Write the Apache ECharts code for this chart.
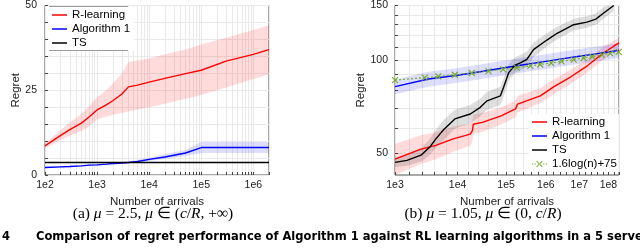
<!DOCTYPE html>
<html><head><meta charset="utf-8">
<script src="https://cdn.jsdelivr.net/npm/echarts@6/dist/echarts.min.js"></script>
<style>html,body{margin:0;padding:0;background:#fff;overflow:hidden}#c{width:640px;height:249px}</style>
</head><body><div id="c"></div>
<script>
// ---------- Panel (a) data ----------
const nA = [100, 200, 300, 500, 700, 1000, 1500, 2000, 3000, 4000, 6000, 10000, 20000, 50000, 100000, 300000, 1000000, 2000000];
const rlA   = [8.6, 11.7, 13.4, 15.3, 17.1, 19.2, 20.7, 21.9, 23.9, 26.0, 26.5, 27.4, 28.5, 29.9, 30.9, 33.6, 35.6, 37.0];
const rlHiA = [9.3, 13.2, 15.5, 18.0, 20.3, 22.9, 25.0, 27.0, 30.0, 33.3, 33.8, 34.4, 35.6, 37.0, 38.5, 40.5, 42.8, 44.2];
const rlLoA = [8.0, 10.3, 11.6, 13.0, 14.4, 16.4, 17.2, 17.8, 18.3, 18.8, 19.3, 20.0, 21.0, 22.5, 23.6, 25.8, 28.3, 29.7];
const alA   = [2.2, 2.4, 2.5, 2.7, 2.9, 3.0, 3.2, 3.35, 3.55, 3.7, 4.0, 4.6, 5.3, 6.5, 8.1, 8.1, 8.1, 8.1];
const alHiA = [2.4, 2.6, 2.7, 2.9, 3.1, 3.3, 3.5, 3.65, 3.85, 4.0, 4.4, 5.1, 6.1, 7.4, 9.7, 9.7, 9.7, 9.7];
const alLoA = [2.0, 2.2, 2.3, 2.5, 2.7, 2.8, 3.0, 3.1, 3.3, 3.45, 3.7, 4.2, 4.7, 5.6, 6.5, 6.5, 6.5, 6.5];
const nTsA  = [100, 2000000];
const tsA   = [3.7, 3.7];
const xTickA = [100, 1000, 10000, 100000, 1000000];
const yTickA = [0, 25, 50];

// ---------- Panel (b) data (x = log10 of number of arrivals) ----------
const eRlB   = [3.0, 3.37, 3.62, 3.92, 4.24, 4.28, 4.30, 4.5, 4.9, 5.22, 5.27, 5.85, 6.22, 6.72, 7.25, 7.83, 8.2, 8.4];
const rlB    = [47.8, 51.4, 53.0, 55.6, 57.6, 59.0, 62.0, 63.0, 66.1, 69.5, 72.0, 76.6, 81.9, 88.1, 95.6, 105.5, 110.8, 113.6];
const rlHiB  = [53.6, 57.0, 58.5, 61.0, 62.5, 63.8, 66.5, 67.5, 70.5, 74.0, 76.5, 81.0, 86.5, 93.0, 100.5, 110.5, 115.5, 118.0];
const rlLoB  = [42.5, 46.0, 47.8, 50.5, 52.8, 54.3, 57.5, 58.7, 62.0, 65.3, 67.7, 72.5, 77.5, 83.5, 91.0, 100.5, 106.0, 109.0];
const eAlB   = [3.0, 3.5, 4.0, 4.5, 5.0, 5.5, 6.0, 6.5, 7.0, 7.5, 8.0, 8.4];
const alB    = [82.0, 86.8, 89.3, 92.0, 94.6, 96.9, 99.0, 101.0, 102.8, 104.5, 106.1, 107.4];
const alHiB  = [86.5, 91.6, 94.2, 97.0, 99.8, 102.2, 104.4, 106.6, 108.5, 110.3, 112.0, 113.3];
const alLoB  = [77.5, 82.0, 84.4, 87.0, 89.4, 91.6, 93.6, 95.5, 97.2, 98.8, 100.3, 101.5];
const eTsB   = [3.0, 3.17, 3.39, 3.52, 3.62, 3.75, 3.87, 3.95, 4.24, 4.44, 4.58, 4.87, 4.94, 5.06, 5.21, 5.35, 5.5, 5.67, 6.03, 6.32, 6.82, 7.25, 7.55, 7.83, 8.2];
const tsB    = [46.7, 47.4, 49.4, 52.3, 55.6, 59.5, 62.5, 64.5, 66.9, 70.3, 73.8, 76.6, 81.5, 91.0, 96.3, 98.0, 100.5, 108, 116, 122, 130, 132.6, 135.5, 141.8, 150];
const tsHiB  = [48.5, 49.5, 52, 55.5, 59.5, 64, 67, 69, 71.5, 75, 79, 82, 87, 97, 102, 104, 106.5, 114, 122, 128, 136, 138.5, 141.5, 148, 156];
const tsLoB  = [45, 45.5, 47, 49.3, 52, 55, 58, 60, 62.5, 65.8, 69, 71.5, 76, 85.5, 91, 92.5, 95, 102, 110.5, 116.5, 124.5, 127, 130, 136, 144];
const eFitB  = [3.0, 3.44, 3.66, 3.95, 4.27, 4.61, 4.93, 5.25, 5.59, 5.85, 6.15, 6.45, 6.82, 7.14, 7.43, 7.77, 8.07, 8.39];
const fitB   = [86.1, 87.7, 88.5, 89.6, 90.8, 92.1, 93.3, 94.5, 95.7, 96.7, 97.8, 99.0, 100.3, 101.5, 102.6, 103.9, 105.0, 106.2];
const xTickB = [3, 4, 5, 6, 7, 8];
const yTickB = [50, 100, 150];

// ---------- helpers ----------
const zip = (xs, ys) => xs.map((x, i) => [x, ys[i]]);
const FONT = 'Liberation Sans, Arial, sans-serif';
const minorA = [];
[100, 1000, 10000, 100000, 1000000].forEach(d => { for (let k = 1; k <= 9; k++) if (d * k <= 2000000) minorA.push(d * k); });
const minorYA = []; for (let v = 0; v <= 50; v += 5) minorYA.push(v);
const minorB = []; for (let i = 0; i <= 27; i++) minorB.push(+(3 + 0.2 * i).toFixed(1));
const minorYB = []; for (let v = 50; v <= 150; v += 10) minorYB.push(v);

function band(xs, lo, hi, color, axis) {
  return {
    type: 'custom', xAxisIndex: axis, yAxisIndex: axis, silent: true, z: 1, clip: true,
    data: [[xs[0], lo[0]]], encode: { x: 0, y: 1 },
    renderItem: (params, api) => {
      const pts = [];
      for (let i = 0; i < xs.length; i++) pts.push(api.coord([xs[i], hi[i]]));
      for (let i = xs.length - 1; i >= 0; i--) pts.push(api.coord([xs[i], lo[i]]));
      const cs = params.coordSys;
      return { type: 'group', children: [{ type: 'polygon', shape: { points: pts }, style: { fill: color } }],
        clipPath: { type: 'rect', shape: { x: cs.x, y: cs.y, width: cs.width, height: cs.height } } };
    }
  };
}
function line(name, xs, ys, color, axis) {
  return { name, type: 'line', xAxisIndex: axis, yAxisIndex: axis, data: zip(xs, ys), symbol: 'none', showSymbol: false,
    lineStyle: { color, width: 1.4 }, itemStyle: { color }, z: 3 };
}

const axisCommon = {
  axisLine: { show: false },
  axisTick: { inside: true, length: 3, lineStyle: { color: '#444' } },
  splitLine: { show: true, lineStyle: { color: '#e9e9e9', width: 1 } },
  axisLabel: { fontFamily: FONT, fontSize: 10.5, color: '#222' },
  nameTextStyle: { fontFamily: FONT, fontSize: 11.5, color: '#222' }
};

const LINE_ICON = 'path://M0,0H14V1.4H0Z';
const FIT_ICON = 'path://M0,3.5h1.2v1h-1.2zM2.4,3.5h1.2v1h-1.2zM10.4,3.5h1.2v1h-1.2zM12.8,3.5h1.2v1h-1.2zM4,1.6L4.6,1L10,6.4L9.4,7zM4,6.4L4.6,7L10,1.6L9.4,1z';
const legendText = { fontFamily: FONT, fontSize: 11.5, color: '#000', lineHeight: 14 };
const SERIF = 'Liberation Serif, serif';
const BOLD = 'DejaVu Sans Condensed, DejaVu Sans, sans-serif';

const option = {
  animation: false,
  backgroundColor: '#fff',
  grid: [
    { left: 45, top: 4, width: 224, height: 171, show: true, borderColor: '#555', borderWidth: 1, backgroundColor: '#fff' },
    { left: 395, top: 4, width: 224, height: 171, show: true, borderColor: '#555', borderWidth: 1, backgroundColor: '#fff' }
  ],
  xAxis: [
    Object.assign({}, axisCommon, { gridIndex: 0, type: 'log', logBase: 10, min: 100, max: 2000000,
      axisTick: Object.assign({}, axisCommon.axisTick, { customValues: minorA }),
      axisLabel: Object.assign({}, axisCommon.axisLabel, { customValues: xTickA, margin: 5,
        formatter: v => '1e' + Math.round(Math.log10(v)) }),
      name: 'Number of arrivals', nameLocation: 'middle', nameGap: 18 }),
    Object.assign({}, axisCommon, { gridIndex: 1, type: 'log', logBase: 10, min: 3, max: 8.4,
      axisTick: Object.assign({}, axisCommon.axisTick, { customValues: minorB }),
      axisLabel: Object.assign({}, axisCommon.axisLabel, { customValues: xTickB, margin: 5,
        formatter: v => '1e' + Math.round(v) }),
      name: 'Number of arrivals', nameLocation: 'middle', nameGap: 18 })
  ],
  yAxis: [
    Object.assign({}, axisCommon, { gridIndex: 0, type: 'value', min: 0, max: 50,
      axisTick: Object.assign({}, axisCommon.axisTick, { customValues: minorYA }),
      axisLabel: Object.assign({}, axisCommon.axisLabel, { customValues: yTickA, margin: 8 }),
      name: 'Regret', nameLocation: 'middle', nameGap: 12 }),
    Object.assign({}, axisCommon, { gridIndex: 1, type: 'log', logBase: 10, min: 42.5, max: 150,
      axisTick: Object.assign({}, axisCommon.axisTick, { customValues: minorYB }),
      axisLabel: Object.assign({}, axisCommon.axisLabel, { customValues: yTickB, margin: 7 }),
      name: 'Regret', nameLocation: 'middle', nameGap: 17 })
  ],
  legend: [
    { data: [{ name: 'R-learning', icon: LINE_ICON }, { name: 'Algorithm 1', icon: LINE_ICON }, { name: 'TS', icon: LINE_ICON }],
      orient: 'vertical', left: 49, top: 7,
      itemWidth: 15, itemHeight: 14, itemGap: 0, padding: [1, 4, 1, 3], backgroundColor: '#fff',
      textStyle: legendText, selectedMode: false },
    { data: [{ name: 'R-learning', icon: LINE_ICON }, { name: 'Algorithm 1', icon: LINE_ICON }, { name: 'TS', icon: LINE_ICON },
             { name: '1.6log(n)+75', icon: FIT_ICON, itemStyle: { color: '#77ac30', borderWidth: 0 } }],
      orient: 'vertical', left: 529, top: 114,
      itemWidth: 15, itemHeight: 14, itemGap: 0, padding: [1, 2, 1, 3], backgroundColor: '#fff',
      textStyle: legendText, selectedMode: false }
  ],
  series: [
    band(nA, rlLoA, rlHiA, 'rgba(255,0,0,0.14)', 0),
    band(nA, alLoA, alHiA, 'rgba(0,0,255,0.13)', 0),
    band(eRlB, rlLoB, rlHiB, 'rgba(255,0,0,0.14)', 1),
    band(eAlB, alLoB, alHiB, 'rgba(0,0,255,0.13)', 1),
    band(eTsB, tsLoB, tsHiB, 'rgba(0,0,0,0.13)', 1),
    line('R-learning', nA, rlA, '#ff0000', 0),
    line('Algorithm 1', nA, alA, '#0000ff', 0),
    line('TS', nTsA, tsA, '#000000', 0),
    line('R-learning', eRlB, rlB, '#ff0000', 1),
    line('Algorithm 1', eAlB, alB, '#0000ff', 1),
    line('TS', eTsB, tsB, '#000000', 1),
    { name: '1.6log(n)+75', type: 'line', xAxisIndex: 1, yAxisIndex: 1, data: zip(eFitB, fitB),
      symbol: 'path://M0,0L10,10M0,10L10,0', symbolSize: 6, showSymbol: true,
      lineStyle: { color: '#77ac30', width: 1.2, type: [2, 2] },
      itemStyle: { color: 'none', borderColor: '#77ac30', borderWidth: 1.2 }, z: 4 }
  ],
  graphic: [
    { type: 'line', shape: { x1: 49, y1: 6.5, x2: 128, y2: 6.5 }, style: { stroke: '#9a9a9a', lineWidth: 1 }, z: 100 },
    { type: 'line', shape: { x1: 49, y1: 50.5, x2: 128, y2: 50.5 }, style: { stroke: '#9a9a9a', lineWidth: 1 }, z: 100 },
    { type: 'text', x: 153, y: 214, z: 100, style: {
        text: '{n|(a) }{i|μ}{n| = 2.5, }{i|μ}{n| ∈ (}{i|c}{n|/}{i|R}{n|, +∞)}',
        align: 'center', verticalAlign: 'middle',
        rich: { n: { fontFamily: SERIF, fontSize: 15.5, fill: '#000' },
                i: { fontFamily: SERIF, fontSize: 15.5, fontStyle: 'italic', fill: '#000' } } } },
    { type: 'text', x: 483, y: 214, z: 100, style: {
        text: '{n|(b) }{i|μ}{n| = 1.05, }{i|μ}{n| ∈ (0, }{i|c}{n|/}{i|R}{n|)}',
        align: 'center', verticalAlign: 'middle',
        rich: { n: { fontFamily: SERIF, fontSize: 15.5, fill: '#000' },
                i: { fontFamily: SERIF, fontSize: 15.5, fontStyle: 'italic', fill: '#000' } } } },
    { type: 'text', x: 2, y: 237, z: 100, style: { text: '4', fontFamily: BOLD, fontSize: 12.8, fontWeight: 'bold', fill: '#000', verticalAlign: 'middle' } },
    { type: 'text', x: 36, y: 237, z: 100, style: { text: 'Comparison of regret performance of Algorithm 1 against RL learning algorithms in a 5 server system',
        fontFamily: BOLD, fontSize: 12.8, fontWeight: 'bold', fill: '#000', verticalAlign: 'middle' } }
  ]
};
const chart = echarts.init(document.getElementById('c'), null, { renderer: 'canvas' });
chart.setOption(option);
</script>
</body></html>
